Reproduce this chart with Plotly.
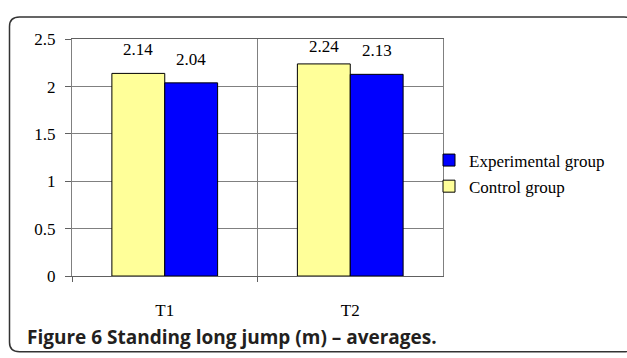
import plotly.graph_objects as go

# Standing long jump (m), group averages at two test points
categories = ["T1", "T2"]
control_group = [2.14, 2.24]
experimental_group = [2.04, 2.13]
y_ticks = [0, 0.5, 1, 1.5, 2, 2.5]
caption = "Figure 6 Standing long jump (m) – averages."

W, H = 627, 358
BARGAP = 0.43
Y_MAX = 2.5
SERIF = "Liberation Serif, Times New Roman, serif"


def px(x):
    return x / W


def py(y):
    return 1 - y / H


fig = go.Figure()
fig.add_trace(go.Bar(
    x=categories, y=control_group, name="Control group",
    marker=dict(color="#FFFF99", line=dict(color="#000000", width=1)),
    legendrank=2, legendgroup="c",
))
fig.add_trace(go.Bar(
    x=categories, y=experimental_group, name="Experimental group",
    marker=dict(color="#0000FF", line=dict(color="#000000", width=1)),
    legendrank=1, legendgroup="e",
))

# value labels above each bar, kept inside the plot area near the top
bar_w = (1 - BARGAP) / 2
label_lift = 0.25
label_cap = Y_MAX - 0.08
annotations = []
for series, shift in ((control_group, -bar_w / 2), (experimental_group, bar_w / 2)):
    for i, v in enumerate(series):
        annotations.append(dict(
            x=i + shift, y=min(v + label_lift, label_cap), xref="x", yref="y",
            text=f"{v:.2f}", showarrow=False, yanchor="middle",
            font=dict(family=SERIF, size=17, color="#000000"),
        ))

annotations.append(dict(
    x=px(25), y=py(346), xref="paper", yref="paper", text=f"<b>{caption}</b>",
    showarrow=False, xanchor="left", yanchor="middle",
    font=dict(family="Open Sans, sans-serif", size=19, color="#231F20"),
))

# rounded outer frame (right and bottom edges run just past the canvas)
x0, x1, y0, y1, r = 9.5, 634, 8.5, 362, 10
frame = (
    f"M {px(x0)},{py(y0 + r)} Q {px(x0)},{py(y0)} {px(x0 + r)},{py(y0)} "
    f"L {px(x1 - r)},{py(y0)} Q {px(x1)},{py(y0)} {px(x1)},{py(y0 + r)} "
    f"L {px(x1)},{py(y1 - r)} Q {px(x1)},{py(y1)} {px(x1 - r)},{py(y1)} "
    f"L {px(x0 + r)},{py(y1)} Q {px(x0)},{py(y1)} {px(x0)},{py(y1 - r)} Z"
)

fig.update_layout(
    width=W, height=H,
    margin=dict(l=0, r=0, t=0, b=0),
    paper_bgcolor="#FFFFFF", plot_bgcolor="#FFFFFF",
    barmode="group", bargap=BARGAP, bargroupgap=0,
    showlegend=True,
    legend=dict(
        x=px(429), y=py(141), xanchor="left", yanchor="top",
        font=dict(family=SERIF, size=17, color="#000000"),
        tracegroupgap=1, bgcolor="rgba(0,0,0,0)",
    ),
    annotations=annotations,
    shapes=[dict(type="path", path=frame, xref="paper", yref="paper",
                 line=dict(color="#333333", width=1.5))],
    xaxis=dict(
        domain=[px(72), px(443)], range=[-0.5, 1.5],
        tickson="boundaries", ticks="outside", ticklen=5, tickcolor="#606060",
        showgrid=True, gridcolor="#808080", gridwidth=1,
        showline=True, linecolor="#606060", linewidth=1, mirror=True,
        tickfont=dict(family=SERIF, size=17, color="#000000"),
        ticklabelstandoff=19,
    ),
    yaxis=dict(
        domain=[py(282), py(32)], range=[0, Y_MAX],
        tickvals=y_ticks, ticks="outside", ticklen=6, tickcolor="#606060",
        showgrid=True, gridcolor="#808080", gridwidth=1, zeroline=False,
        showline=True, linecolor="#808080", linewidth=1, mirror=True,
        tickfont=dict(family=SERIF, size=17, color="#000000"),
        ticklabelstandoff=6,
    ),
)

fig.write_html("out.html")
